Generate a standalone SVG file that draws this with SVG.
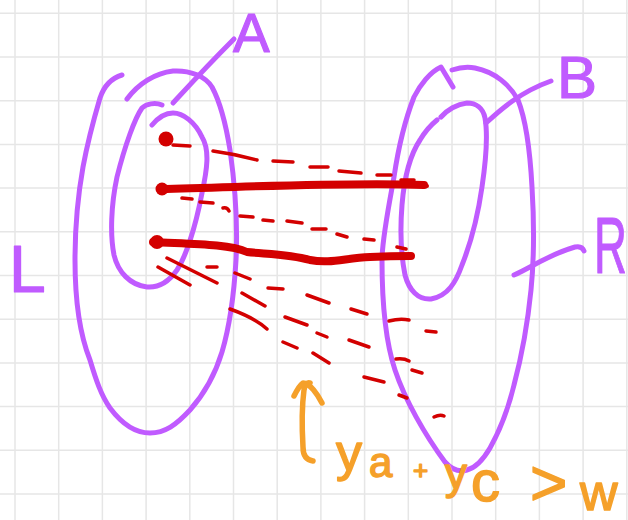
<svg xmlns="http://www.w3.org/2000/svg" width="628" height="520" viewBox="0 0 628 520">
  <defs>
    <style>
      .grid { stroke: #e6e6e6; stroke-width: 1.5; }
      .pen { fill: none; stroke: #c05bff; stroke-width: 5; stroke-linecap: round; stroke-linejoin: round; }
      .pen-label { fill: #c05bff; stroke: #c05bff; stroke-width: 1.2; stroke-linejoin: round; font-family: "Liberation Sans", Arial, sans-serif; }
      .thick { fill: none; stroke: #d30000; stroke-width: 8; stroke-linecap: round; stroke-linejoin: round; }
      .dot { fill: #d30000; }
      .dash { fill: none; stroke: #d30000; stroke-width: 3.5; stroke-linecap: round; }
      .ink-orange { fill: none; stroke: #f5a02a; stroke-width: 5.5; stroke-linecap: round; stroke-linejoin: round; }
      .note { fill: #f5a02a; stroke: #f5a02a; stroke-width: 1.5; stroke-linejoin: round; font-family: "Liberation Sans", Arial, sans-serif; }
    </style>
  </defs>

  <rect width="628" height="520" fill="#ffffff"/>

  <!-- squared paper -->
  <g id="paper" class="grid">
    <path d="M15,0V520 M58.7,0V520 M102.4,0V520 M146.1,0V520 M189.8,0V520 M233.5,0V520 M277.2,0V520 M320.9,0V520 M364.6,0V520 M408.3,0V520 M452,0V520 M495.7,0V520 M539.4,0V520 M583.1,0V520 M626.8,0V520"/>
    <path d="M0,13.3H628 M0,57H628 M0,100.7H628 M0,144.4H628 M0,188.1H628 M0,231.8H628 M0,275.5H628 M0,319.2H628 M0,362.9H628 M0,406.6H628 M0,450.3H628 M0,494H628"/>
  </g>

  <!-- left set L -->
  <g id="node-L">
    <path class="pen" d="M122,75 C112,78 104,86 100,98 C95,115 88,140 83,167 C78,195 75,225 75,260 C75,290 78,330 90,360 C96,380 101,395 110,408 C122,424 136,433 150,433 C165,433 176,425 190,410 C205,393 215,375 222,352 C230,325 234,295 236,260 C238,220 235,185 230,150 C226,125 219,100 212,87 C205,76 190,70 173,71 C155,73 138,84 127,99"/>
    <text class="pen-label" x="9" y="292" font-size="66">L</text>
  </g>

  <!-- subset A -->
  <g id="node-A">
    <path class="pen" d="M162,105 C155,102 146,104 142,108 C135,118 125,145 117,177 C111,205 110,235 114,255 C118,272 130,285 147,287 C160,288 170,280 177,270 C185,258 195,230 202,193 C207,170 210,150 202,137 C195,122 183,113 173,113 C165,113 157,119 152,125"/>
    <path class="pen" d="M173,103 C185,90 205,68 234,39"/>
    <text class="pen-label" x="233" y="52" font-size="55">A</text>
  </g>

  <!-- right set R -->
  <g id="node-R">
    <path class="pen" d="M453,87 L441,67 C430,72 420,85 414,97 C405,120 398,150 394,177 C388,210 382,240 382,260 C382,300 385,340 395,370 C405,400 425,435 445,462 C452,470 460,472 467,470 C475,468 483,460 490,448 C500,430 508,410 514,385 C522,355 528,320 531,290 C534,260 534,220 532,187 C530,150 526,120 518,100 C510,85 495,72 475,68 C465,66 458,68 452,70"/>
    <path class="pen" d="M514,275 C530,268 550,254 575,247 C580,246 583,248 584,251"/>
    <text class="pen-label" transform="translate(594,273) scale(0.57,1)" font-size="80">R</text>
  </g>

  <!-- subset B -->
  <g id="node-B">
    <path class="pen" d="M441,117 C447,110 457,104 467,103 C476,103 483,108 485,118 C488,135 486,160 482,187 C478,215 470,245 462,265 C456,282 448,296 431,299 C418,300 409,290 405,275 C401,255 400,230 402,205 C404,180 410,155 420,140 C426,130 432,124 437,120"/>
    <path class="pen" d="M486,123 C500,110 520,92 551,81"/>
    <text class="pen-label" x="557" y="98" font-size="60">B</text>
  </g>

  <!-- mappings between the sets -->
  <g id="connectors">
    <!-- solid matches -->
    <circle class="dot" cx="162" cy="189" r="6.5"/>
    <path class="thick" d="M160,189 C250,187 350,182 424,185"/>
    <circle class="dot" cx="427" cy="186" r="2"/>
    <circle class="dot" cx="157" cy="242" r="7"/>
    <path class="thick" d="M153,242 C190,244 230,244 247,252 C265,254 290,254 310,260 C330,264 345,258 370,257 C390,256 400,256 411,256"/>

    <!-- unmatched point -->
    <circle class="dot" cx="166" cy="139" r="7.5"/>

    <!-- dashed candidate edges -->
    <path class="dash" d="M173,145 L190,146 M213,151 Q235,154 257,160 M273,161 L293,162 M310,167 L328,167 M339,171 L361,173 M377,175 L391,175 M401,180 L414,180"/>
    <path class="dash" d="M182,198 L192,199 M200,202 L213,203 M223,208 Q227,207 229,211 M240,216 L253,217 M263,220 L273,221 M287,221 L302,223 M312,229 L326,229 M337,234 L347,237 M364,239 L374,240 M397,247 L406,249"/>
    <path class="dash" d="M158,267 L190,285 M167,258 L217,283 M207,267 L217,267 M235,273 L250,279 M268,288 L283,289 M307,295 L329,303 M242,293 L265,306 M230,309 Q255,318 267,329 M285,317 L307,325 M283,342 L297,348 M313,353 L329,363"/>
    <path class="dash" d="M351,309 L367,314 M389,321 Q400,318 409,320 M426,331 L436,332 M317,333 L327,337 M349,340 L369,347 M396,359 Q404,358 409,361 M412,370 L422,373 M364,377 L384,382 M399,395 L407,398 M434,417 Q440,414 444,416"/>
  </g>

  <!-- condition note -->
  <g id="note">
    <path class="ink-orange" d="M313,461 C306,460 303,455 303,447 C302,430 302,405 304,390 C305,384 308,382 310,383 M294,396 C297,390 300,385 303,383 C310,383 318,395 322,403"/>
    <text class="note" font-size="44">
      <tspan x="336" y="470" font-size="52">y</tspan><tspan x="369" y="477" font-size="42">a</tspan><tspan x="413" y="479" font-size="26">+</tspan><tspan x="445" y="489" font-size="44">y</tspan><tspan x="471" y="501" font-size="58">c</tspan><tspan x="530" y="505" font-size="64">&gt;</tspan><tspan x="580" y="510" font-size="52">w</tspan>
    </text>
  </g>
</svg>
